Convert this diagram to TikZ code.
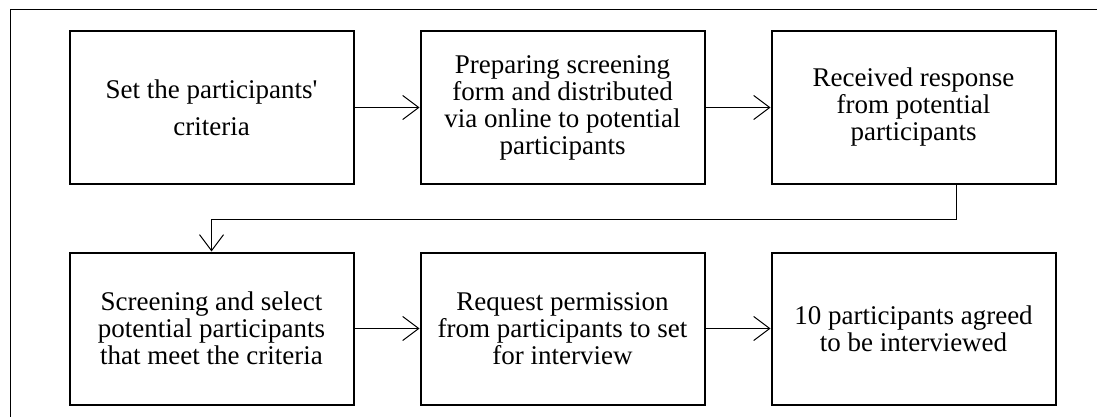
\documentclass[tikz,border=0pt]{standalone}
\usepackage{fontspec}
\setmainfont{Liberation Serif}
\usetikzlibrary{arrows.meta,positioning}
\tikzset{
  lepes/.style={draw,line width=2pt,minimum width=284pt,minimum height=152pt,inner sep=2pt,
                align=center,font=\fontsize{27}{27}\selectfont},
  vonal/.style={-{Straight Barb[length=16pt,width=24pt,line width=1pt]},line width=1pt},
  keret/.style={line width=1pt},
}
\begin{document}
\begin{tikzpicture}
  \useasboundingbox (0,0) rectangle (1097pt,-417pt);
  \draw[keret] (1097pt,-10pt) -| (10pt,-417pt);
  \node[lepes,font=\fontsize{27}{37}\selectfont] (b1) at (211.5pt,-107.5pt) {Set the participants\textquotesingle\\criteria};
  \node[lepes,right=65pt of b1] (b2) {Preparing screening\\form and distributed\\via online to potential\\participants};
  \node[lepes,right=65pt of b2] (b3) {Received response\\from potential\\participants};
  \node[lepes,below=67pt of b1] (b4) {Screening and select\\potential participants\\that meet the criteria};
  \node[lepes,right=65pt of b4] (b5) {Request permission\\from participants to set\\for interview};
  \node[lepes,right=65pt of b5] (b6) {10 participants agreed\\to be interviewed};
  \draw[vonal] (b1) -- (b2); \draw[vonal] (b2) -- (b3);
  \draw[vonal] ([xshift=43pt]b3.south) -- ++(0,-35pt) -| (b4.north);
  \draw[vonal] (b4) -- (b5); \draw[vonal] (b5) -- (b6);
\end{tikzpicture}
\end{document}
